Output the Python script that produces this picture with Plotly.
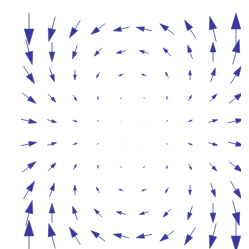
import numpy as np
import plotly.graph_objects as go

# grid positions (same for x and y), y ascending
grid = [-1.0, -0.778, -0.556, -0.333, -0.111, 0.111, 0.333, 0.556, 0.778, 1.0]

# U (horizontal component), rows = y ascending, cols = x ascending
U = [
    [0.00, -0.40, -0.69, -0.89, -0.99, -0.99, -0.89, -0.69, -0.40, 0.00],
    [0.40, 0.00, -0.30, -0.49, -0.59, -0.59, -0.49, -0.30, 0.00, 0.40],
    [0.69, 0.30, 0.00, -0.20, -0.30, -0.30, -0.20, 0.00, 0.30, 0.69],
    [0.89, 0.49, 0.20, 0.00, -0.10, -0.10, 0.00, 0.20, 0.49, 0.89],
    [0.99, 0.59, 0.30, 0.10, 0.00, 0.00, 0.10, 0.30, 0.59, 0.99],
    [0.99, 0.59, 0.30, 0.10, 0.00, 0.00, 0.10, 0.30, 0.59, 0.99],
    [0.89, 0.49, 0.20, 0.00, -0.10, -0.10, 0.00, 0.20, 0.49, 0.89],
    [0.69, 0.30, 0.00, -0.20, -0.30, -0.30, -0.20, 0.00, 0.30, 0.69],
    [0.40, 0.00, -0.30, -0.49, -0.59, -0.59, -0.49, -0.30, 0.00, 0.40],
    [0.00, -0.40, -0.69, -0.89, -0.99, -0.99, -0.89, -0.69, -0.40, 0.00],
]

# V (vertical component)
V = [
    [2.00, 1.56, 1.11, 0.67, 0.22, -0.22, -0.67, -1.11, -1.56, -2.00],
    [1.56, 1.21, 0.86, 0.52, 0.17, -0.17, -0.52, -0.86, -1.21, -1.56],
    [1.11, 0.86, 0.62, 0.37, 0.12, -0.12, -0.37, -0.62, -0.86, -1.11],
    [0.67, 0.52, 0.37, 0.22, 0.07, -0.07, -0.22, -0.37, -0.52, -0.67],
    [0.22, 0.17, 0.12, 0.07, 0.02, -0.02, -0.07, -0.12, -0.17, -0.22],
    [-0.22, -0.17, -0.12, -0.07, -0.02, 0.02, 0.07, 0.12, 0.17, 0.22],
    [-0.67, -0.52, -0.37, -0.22, -0.07, 0.07, 0.22, 0.37, 0.52, 0.67],
    [-1.11, -0.86, -0.62, -0.37, -0.12, 0.12, 0.37, 0.62, 0.86, 1.11],
    [-1.56, -1.21, -0.86, -0.52, -0.17, 0.17, 0.52, 0.86, 1.21, 1.56],
    [-2.00, -1.56, -1.11, -0.67, -0.22, 0.22, 0.67, 1.11, 1.56, 2.00],
]

COLOR = "rgb(58,58,158)"
SCALE = 0.155      # data units per unit of vector magnitude
HEAD_LEN = 0.5     # fraction of arrow length
HEAD_HW = 0.15     # half-width as fraction of arrow length

sx, sy, hx, hy = [], [], [], []
for j, yv in enumerate(grid):
    for i, xv in enumerate(grid):
        u, v = U[j][i] * SCALE, V[j][i] * SCALE
        L = np.hypot(u, v)
        if L < 1e-6:
            continue
        dx, dy = u / L, v / L
        px, py = -dy, dx
        tx, ty = xv - u / 2, yv - v / 2  # pivot middle
        tipx, tipy = xv + u / 2, yv + v / 2
        bx, by = tipx - dx * L * HEAD_LEN, tipy - dy * L * HEAD_LEN
        sx += [tx, bx, None]
        sy += [ty, by, None]
        hw = L * HEAD_HW
        hx += [tipx, bx + px * hw, bx - px * hw, tipx, None]
        hy += [tipy, by + py * hw, by - py * hw, tipy, None]

fig = go.Figure()
fig.add_trace(go.Scatter(x=sx, y=sy, mode="lines", line=dict(color=COLOR, width=1),
                         opacity=0.75, hoverinfo="skip"))
fig.add_trace(go.Scatter(x=hx, y=hy, mode="lines", fill="toself", fillcolor=COLOR,
                         line=dict(color=COLOR, width=0.5), hoverinfo="skip"))

R = 1.203
fig.update_layout(
    width=249, height=249, margin=dict(l=0, r=0, t=0, b=0),
    paper_bgcolor="white", plot_bgcolor="white", showlegend=False,
    xaxis=dict(range=[-R, R], visible=False, fixedrange=True),
    yaxis=dict(range=[-R, R], visible=False, fixedrange=True),
)
fig.write_html("out.html")
